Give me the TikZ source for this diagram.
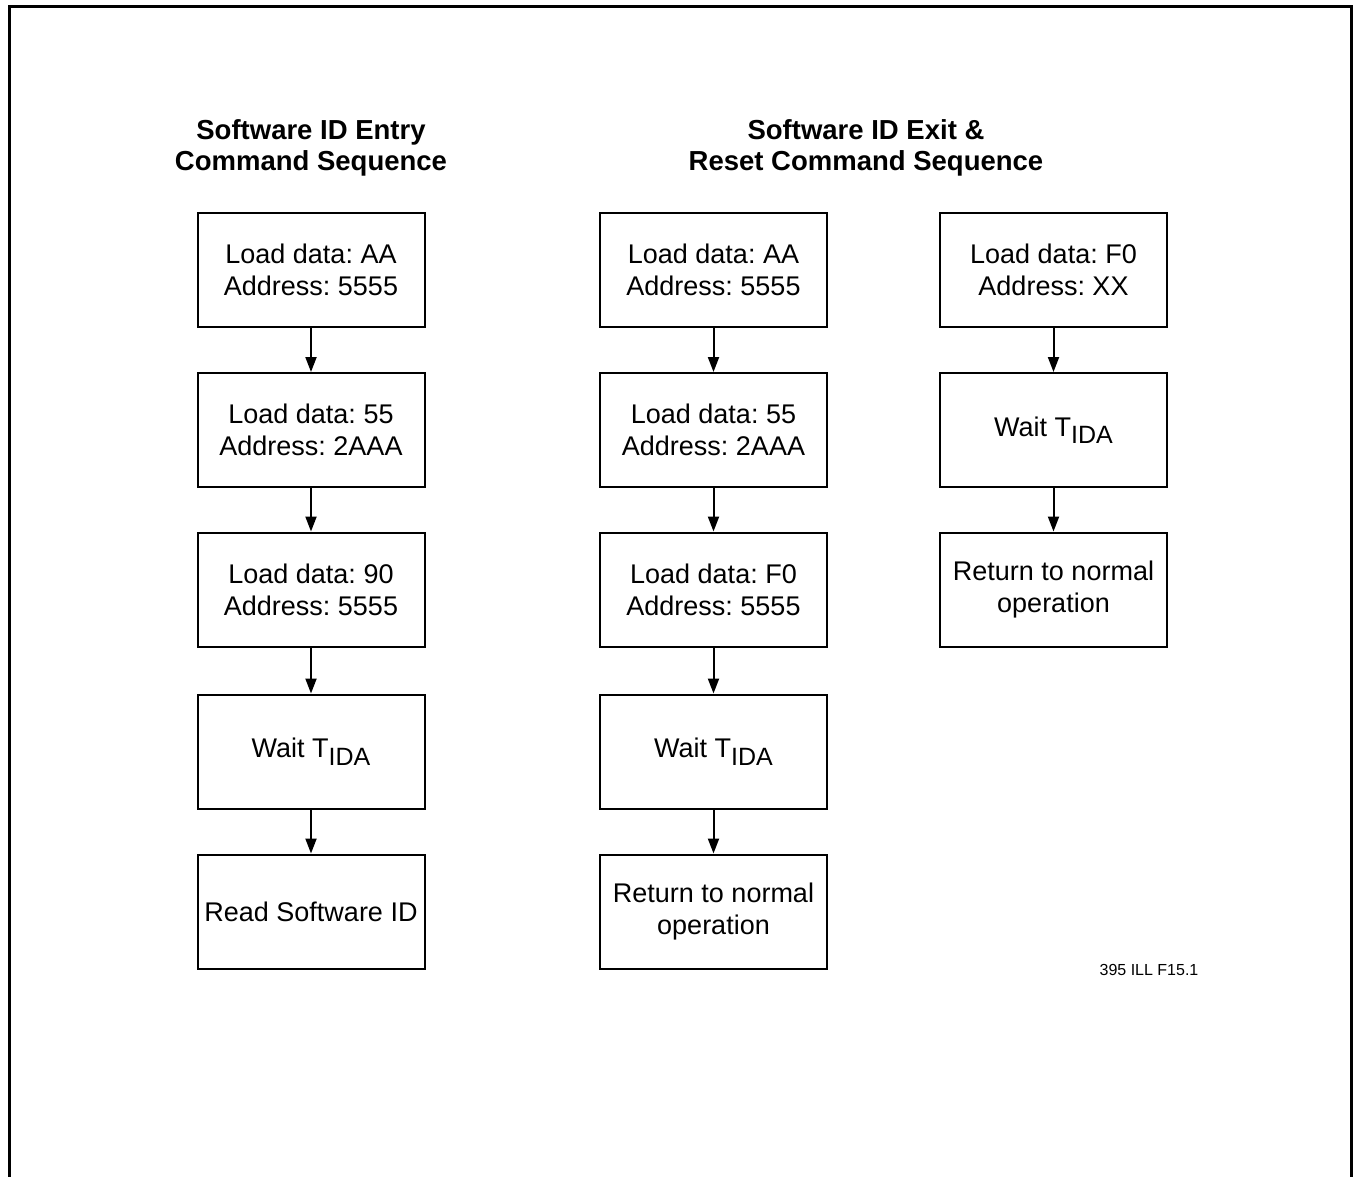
\documentclass[tikz,border=0pt]{standalone}
\usepackage{fontspec}
\setmainfont{Liberation Sans}
\usetikzlibrary{arrows.meta}
\frenchspacing
\tikzset{
  stepbox/.style={draw=black, line width=2pt, minimum width=227pt, minimum height=114pt, inner sep=0pt, align=center, font=\fontsize{27}{32}\selectfont},
  titletext/.style={align=center, inner sep=0pt, font=\bfseries\fontsize{27.5}{31}\selectfont},
  flow/.style={draw=black, line width=2pt, -{Triangle[length=15pt,width=11pt]}},
  border/.style={draw=black, line width=3pt}
}
\newcommand{\waittida}{Wait T\raisebox{-0.28em}{\fontsize{25}{25}\selectfont IDA}}
\begin{document}
\begin{tikzpicture}[x=1pt,y=-1pt]
\useasboundingbox (0,0) rectangle (1354,1176);
\draw[border] (9.5,1180) -- (9.5,6.5) -- (1351.5,6.5) -- (1351.5,1180);

\node[titletext] (t1) at (311,148) {Software ID Entry\\Command Sequence};
\node[titletext] (t2) at (866,148) {Software ID Exit \&\\Reset Command Sequence};

% column 1
\node[stepbox] (a1) at (311,270) {Load data: AA\\Address: 5555};
\node[stepbox] (a2) at (311,430) {Load data: 55\\Address: 2AAA};
\node[stepbox] (a3) at (311,589.5) {Load data: 90\\Address: 5555};
\node[stepbox] (a4) at (311,751.5) {\waittida};
\node[stepbox] (a5) at (311,911.5) {Read Software ID};

% column 2
\node[stepbox] (b1) at (713.5,270) {Load data: AA\\Address: 5555};
\node[stepbox] (b2) at (713.5,430) {Load data: 55\\Address: 2AAA};
\node[stepbox] (b3) at (713.5,589.5) {Load data: F0\\Address: 5555};
\node[stepbox] (b4) at (713.5,751.5) {\waittida};
\node[stepbox] (b5) at (713.5,911.5) {Return to normal\\operation};

% column 3
\node[stepbox] (c1) at (1053.5,270) {Load data: F0\\Address: XX};
\node[stepbox] (c2) at (1053.5,430) {\waittida};
\node[stepbox] (c3) at (1053.5,589.5) {Return to normal\\operation};

\foreach \p/\q in {a1/a2,a2/a3,a3/a4,a4/a5,b1/b2,b2/b3,b3/b4,b4/b5,c1/c2,c2/c3}
  \draw[flow] (\p.south) -- (\q.north);

\node[inner sep=0pt, font=\fontsize{16}{19}\selectfont] (fig) at (1149,970) {395 ILL F15.1};
\end{tikzpicture}
\end{document}
